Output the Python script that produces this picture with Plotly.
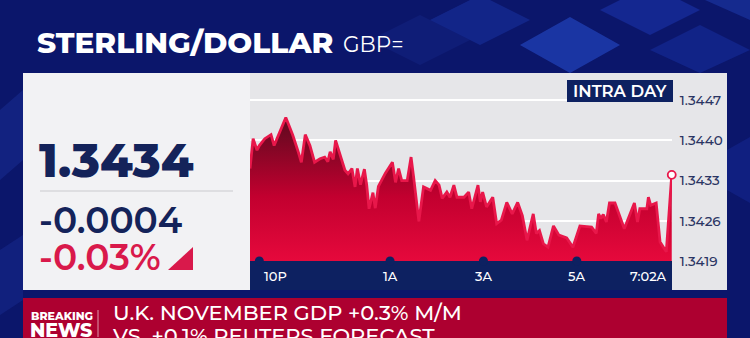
import plotly.graph_objects as go

# ---------------- data ----------------
times = ["22:00","22:04","22:09","22:12","22:19","22:27","22:31","22:38","22:46","22:51","22:55",
         "23:02","23:06","23:11","23:17","23:23","23:30","23:36","23:40","23:43","23:47","23:50","23:55",
         "00:02","00:06","00:11","00:15","00:18","00:22","00:27","00:30","00:33","00:38","00:41","00:45","00:54",
         "01:03","01:07","01:11","01:15","01:22","01:27","01:30","01:37","01:43","01:52","01:58",
         "02:03","02:07","02:13","02:17","02:22","02:26","02:35","02:41","02:45","02:53","02:56","02:59",
         "03:04","03:12","03:17","03:23","03:30","03:37","03:44","03:50","03:56",
         "04:04","04:08","04:12","04:17","04:23","04:30","04:37","04:47","04:55",
         "05:04","05:19","05:25","05:28","05:31","05:34","05:38","05:42","05:49",
         "06:01","06:14","06:18","06:21","06:30","06:32","06:35","06:42","06:47","06:55","07:02"]
values = [1.34351,1.34403,1.34383,1.34391,1.34403,1.34410,1.34391,1.34414,1.34440,1.34423,1.34409,
          1.34380,1.34362,1.34410,1.34391,1.34362,1.34368,1.34371,1.34363,1.34380,1.34367,1.34400,1.34380,
          1.34348,1.34342,1.34351,1.34319,1.34351,1.34323,1.34350,1.34322,1.34281,1.34309,1.34282,1.34320,1.34343,
          1.34362,1.34327,1.34351,1.34330,1.34330,1.34371,1.34339,1.34259,1.34319,1.34313,1.34330,
          1.34322,1.34299,1.34310,1.34301,1.34322,1.34301,1.34301,1.34310,1.34281,1.34322,1.34293,1.34310,
          1.34284,1.34301,1.34255,1.34261,1.34292,1.34272,1.34292,1.34269,1.34226,
          1.34272,1.34238,1.34243,1.34220,1.34214,1.34251,1.34235,1.34230,1.34214,
          1.34251,1.34249,1.34238,1.34272,1.34264,1.34271,1.34258,1.34291,1.34291,
          1.34246,1.34291,1.34258,1.34281,1.34281,1.34301,1.34287,1.34291,1.34223,1.34206,1.34340]
y_ticks = [1.3419, 1.3426, 1.3433, 1.3440, 1.3447]
x_tick_times = ["22:12", "01:00", "03:00", "05:00", "07:02"]
x_tick_labels = ["10P", "1A", "3A", "5A", "7:02A"]
last_price = "1.3434"
net_change = "-0.0004"
pct_change = "-0.03%"
title_main = "STERLING/DOLLAR"
title_ric = "GBP="
headline_1 = "U.K. NOVEMBER GDP +0.3% M/M"
headline_2 = "VS. +0.1% REUTERS FORECAST"

def stamp(t):
    return ("2022-01-13 " if t >= "12:00" else "2022-01-14 ") + t

xs = [stamp(t) for t in times]
y_lo, y_hi = 1.3419, 1.345174

# ---------------- layout helpers ----------------
W, H = 750, 338
def fx(p): return p / W
def fy(p): return 1 - p / H

NAVY_BG = "#0b166b"
BAND = "#0d2161"
PANEL_L = "#f2f2f4"
PANEL_R = "#e6e6e9"
RED = "#d9194b"
TXT_NAVY = "#14235a"
FONT = "Montserrat, Inter"

shapes = []
def rect(x0, y0, x1, y1, color, layer="below"):
    shapes.append(dict(type="rect", xref="paper", yref="paper", x0=fx(x0), x1=fx(x1),
                       y0=fy(y1), y1=fy(y0), fillcolor=color, line=dict(width=0), layer=layer))
def poly(pts, color, layer="below"):
    path = "M " + " L ".join(f"{fx(a):.5f},{fy(b):.5f}" for a, b in pts) + " Z"
    shapes.append(dict(type="path", xref="paper", yref="paper", path=path,
                       fillcolor=color, line=dict(width=0), layer=layer))

# decorative cubes in the background (kept inside the page)
poly([(520, 45), (570, 17), (620, 45), (570, 73)], "rgba(40,80,210,0.55)")
poly([(430, 20), (470, 0), (490, 0), (530, 20), (480, 45)], "rgba(30,60,180,0.40)")
poly([(600, 10), (620, 0), (680, 0), (700, 10), (650, 35)], "rgba(30,60,190,0.45)")
poly([(650, 50), (700, 25), (750, 50), (700, 73)], "rgba(30,60,190,0.35)")
poly([(705, 0), (750, 0), (750, 20)], "rgba(40,80,210,0.35)")
poly([(370, 40), (420, 15), (470, 40), (420, 65)], "rgba(25,45,150,0.30)")
poly([(727, 150), (750, 137), (750, 203), (727, 190)], "rgba(30,60,190,0.25)")
poly([(0, 110), (23, 90), (23, 160), (0, 180)], "rgba(40,70,190,0.25)")
poly([(0, 250), (23, 235), (23, 300), (0, 315)], "rgba(40,70,190,0.22)")

# panels
rect(23, 73, 250, 290, PANEL_L)
rect(250, 73, 727, 290, PANEL_R)
rect(250, 261, 672, 290, BAND)
rect(23, 298, 727, 338, "#ad0030")
# divider in the quote panel
shapes.append(dict(type="line", xref="paper", yref="paper", x0=fx(40), x1=fx(233),
                   y0=fy(191), y1=fy(191), line=dict(color="#cacace", width=1), layer="below"))
# red change triangle
poly([(168, 270), (193, 270), (193, 247)], RED)
# INTRA DAY box
rect(567, 80, 673, 102, BAND, layer="above")
# breaking news divider
shapes.append(dict(type="line", xref="paper", yref="paper", x0=fx(98), x1=fx(98),
                   y0=fy(310), y1=fy(337), line=dict(color="rgba(255,255,255,0.6)", width=1), layer="below"))

fig = go.Figure()

fig.add_trace(go.Scatter(
    x=xs, y=values, mode="lines",
    line=dict(color="#e8174a", width=2.8),
    fill="tozeroy",
    fillgradient=dict(type="vertical", start=y_lo, stop=1.3444,
                      colorscale=[[0, "#e6093c"], [0.45, "#c2002f"], [1, "#5c0a1f"]]),
    hoverinfo="skip", showlegend=False))

# end-point marker
fig.add_trace(go.Scatter(
    x=[xs[-1]], y=[values[-1]], mode="markers", cliponaxis=False,
    marker=dict(size=8, color="#ffffff", line=dict(color="#e8174a", width=1.8)),
    hoverinfo="skip", showlegend=False))

# tick bumps on the time band
fig.add_trace(go.Scatter(
    x=[stamp(t) for t in x_tick_times[:-1]], y=[y_lo] * (len(x_tick_times) - 1),
    mode="markers", cliponaxis=False,
    marker=dict(size=9, color=BAND, line=dict(width=0)),
    hoverinfo="skip", showlegend=False))

# headline text, clipped to the news bar (second line is cut by the frame edge)
fig.add_trace(go.Scatter(
    x=[113, 113], y=[315, 338], mode="text", text=[headline_1, headline_2],
    textposition="middle right", cliponaxis=True,
    textfont=dict(size=21, color="#ffffff", family=FONT, weight=500),
    xaxis="x2", yaxis="y2", hoverinfo="skip", showlegend=False))

annotations = []
def txt(x, y, s, size, color, family=FONT, weight="normal", xanchor="left"):
    annotations.append(dict(x=fx(x), y=fy(y), xref="paper", yref="paper", text=s, showarrow=False,
                            xanchor=xanchor, yanchor="middle",
                            font=dict(size=size, color=color, family=family, weight=weight)))

txt(35, 42, title_main, 29.5, "#ffffff", weight=800)
txt(341, 44, title_ric, 21.5, "#ffffff", weight=400)
txt(37, 160, last_price, 46.8, TXT_NAVY, weight=800)
txt(37, 220, net_change, 36, TXT_NAVY, weight=600)
txt(37, 257, pct_change, 36, RED, weight=600)
txt(620, 91, "INTRA DAY", 16.5, "#ffffff", weight=600, xanchor="center")
txt(29, 316, "BREAKING", 11, "#ffffff", weight=800)
txt(28, 330, "NEWS", 19, "#ffffff", weight=800)

for t, lab in zip(x_tick_times, x_tick_labels):
    if lab == "10P":
        anc, sh = "left", 3
    elif t == x_tick_times[-1]:
        anc, sh = "right", -3
    else:
        anc, sh = "center", 0
    annotations.append(dict(x=stamp(t), y=fy(276), xref="x", yref="paper", text=lab,
                            showarrow=False, xanchor=anc, yanchor="middle", xshift=sh,
                            font=dict(size=13, color="#ffffff", family=FONT, weight=500)))

hidden = dict(showgrid=False, showticklabels=False, zeroline=False, showline=False, ticks="",
              automargin=False)
fig.update_layout(
    width=W, height=H, autosize=False,
    margin=dict(l=0, r=0, t=0, b=0, pad=0, autoexpand=False),
    paper_bgcolor=NAVY_BG, plot_bgcolor="rgba(0,0,0,0)",
    shapes=shapes, annotations=annotations, showlegend=False,
    xaxis=dict(domain=[fx(250), fx(672)], type="date",
               range=[stamp("22:00"), "2022-01-14 07:02:20"], **hidden),
    yaxis=dict(domain=[fy(261), fy(73)], range=[y_lo, y_hi], side="right", automargin=False,
               tickvals=y_ticks, ticktext=[f"{v:.4f}" for v in y_ticks],
               showgrid=True, gridcolor="#ffffff", gridwidth=2, zeroline=False, showline=False,
               ticks="outside", ticklen=4, tickcolor="rgba(0,0,0,0)",
               tickfont=dict(size=13.5, color="#2b3563", family=FONT, weight=500)),
    xaxis2=dict(domain=[fx(23), fx(727)], range=[23, 727], anchor="y2", **hidden),
    yaxis2=dict(domain=[0, fy(298)], range=[338, 298], anchor="x2", **hidden),
)

fig.write_html("out.html")
